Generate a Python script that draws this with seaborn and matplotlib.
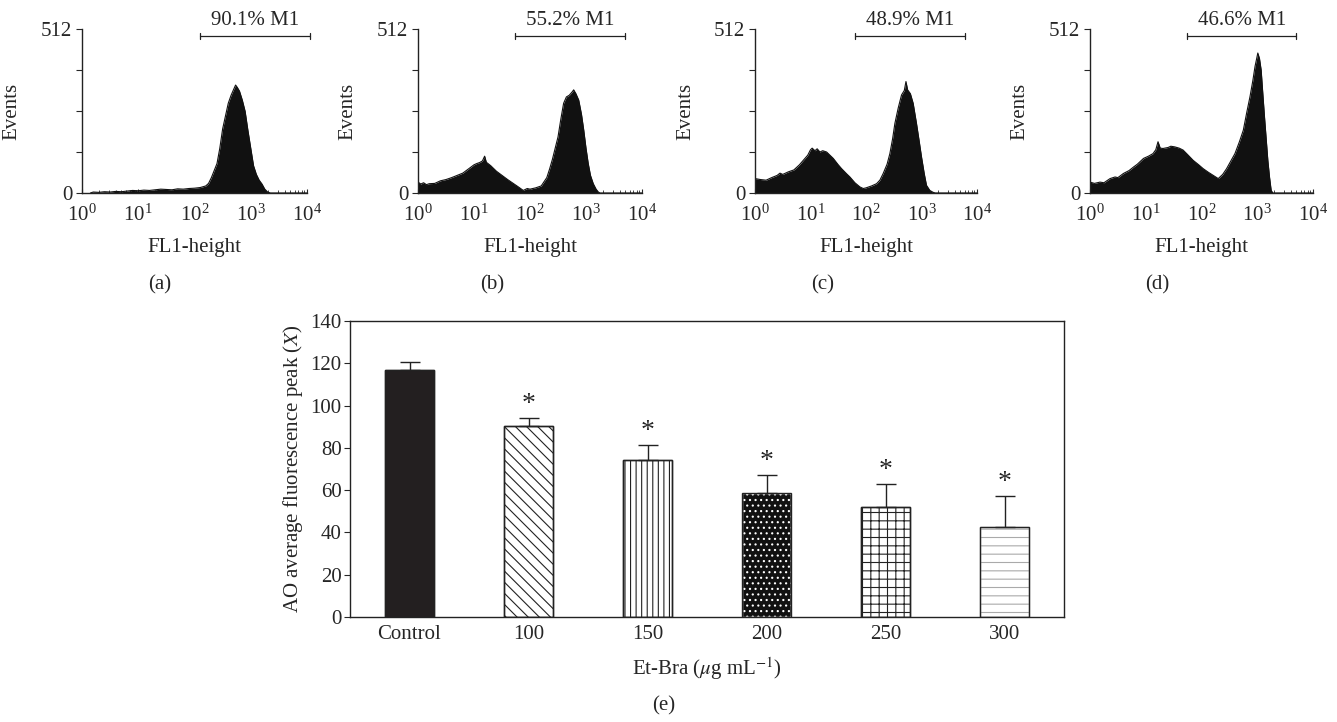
import numpy as np
import pandas as pd
import matplotlib
matplotlib.use("Agg")
import matplotlib.pyplot as plt
import seaborn as sns
from matplotlib.ticker import LogLocator, FixedLocator, NullFormatter, FixedFormatter

# ---------------- data ----------------
hist_a_logx = [0.15, 0.2, 0.3, 0.4, 0.5, 0.6, 0.7, 0.8, 0.9, 1.0, 1.1, 1.2, 1.3, 1.4, 1.5, 1.6, 1.7, 1.8, 1.9,
               2.0, 2.1, 2.2, 2.25, 2.3, 2.35, 2.4, 2.45, 2.5, 2.55, 2.6, 2.65, 2.7, 2.73, 2.76, 2.8, 2.85, 2.9,
               2.95, 3.0, 3.05, 3.1, 3.15, 3.2, 3.25, 3.3, 3.35, 4.0]
hist_a_cnt = [0, 3, 2, 4, 3, 5, 4, 6, 8, 7, 9, 8, 10, 12, 11, 10, 13, 12, 14,
              15, 17, 22, 30, 48, 70, 92, 140, 200, 240, 280, 305, 325, 337, 330, 318, 290, 255,
              195, 140, 85, 58, 40, 28, 12, 3, 0, 0]

hist_b_logx = [0.0, 0.05, 0.1, 0.15, 0.2, 0.3, 0.4, 0.5, 0.6, 0.7, 0.8, 0.9, 1.0, 1.05, 1.1, 1.15, 1.19, 1.22,
               1.3, 1.4, 1.5, 1.6, 1.7, 1.8, 1.88, 1.95, 2.0, 2.1, 2.2, 2.3, 2.35, 2.4, 2.45, 2.5, 2.55, 2.6,
               2.65, 2.7, 2.75, 2.78, 2.82, 2.87, 2.92, 2.96, 3.0, 3.04, 3.08, 3.13, 3.18, 3.22, 3.25, 4.0]
hist_b_cnt = [34, 28, 32, 26, 29, 30, 38, 42, 48, 55, 62, 75, 88, 92, 95, 100, 115, 96,
              85, 68, 55, 42, 30, 18, 8, 14, 12, 16, 22, 48, 75, 105, 140, 175, 230, 280,
              300, 305, 315, 322, 310, 290, 245, 196, 140, 92, 55, 29, 12, 3, 0, 0]

hist_c_logx = [0.0, 0.1, 0.2, 0.3, 0.4, 0.45, 0.5, 0.6, 0.7, 0.8, 0.87, 0.95, 1.0, 1.03, 1.08, 1.12, 1.17,
               1.22, 1.29, 1.35, 1.41, 1.5, 1.56, 1.65, 1.71, 1.8, 1.89, 1.95, 2.0, 2.1, 2.19, 2.25, 2.31,
               2.38, 2.43, 2.48, 2.52, 2.58, 2.64, 2.69, 2.72, 2.75, 2.8, 2.85, 2.91, 2.96, 3.0, 3.05,
               3.09, 3.15, 3.21, 3.25, 4.0]
hist_c_cnt = [45, 42, 40, 48, 55, 62, 58, 66, 72, 88, 102, 118, 135, 140, 132, 138, 128,
              132, 128, 118, 108, 88, 76, 60, 50, 32, 19, 14, 16, 22, 29, 40, 61,
              90, 123, 170, 217, 265, 306, 320, 348, 322, 310, 280, 217, 160, 113, 60,
              24, 8, 2, 0, 0]

hist_d_logx = [0.0, 0.08, 0.18, 0.25, 0.36, 0.45, 0.5, 0.6, 0.7, 0.78, 0.85, 0.96, 1.05, 1.13, 1.18, 1.22,
               1.26, 1.31, 1.4, 1.45, 1.52, 1.6, 1.67, 1.75, 1.85, 1.95, 2.03, 2.12, 2.21, 2.3, 2.38, 2.45,
               2.52, 2.6, 2.68, 2.75, 2.81, 2.87, 2.92, 2.96, 2.99, 3.01, 3.04, 3.07, 3.1, 3.13, 3.16,
               3.19, 3.22, 3.25, 3.28, 4.0]
hist_d_cnt = [34, 30, 34, 32, 45, 50, 48, 61, 70, 81, 90, 108, 115, 123, 135, 160,
              140, 139, 142, 146, 144, 140, 134, 120, 102, 88, 76, 65, 55, 45, 58, 76,
              98, 123, 160, 196, 250, 301, 350, 395, 420, 437, 420, 384, 310, 238, 170,
              102, 50, 8, 0, 0]

gate_pct = ["90.1% M1", "55.2% M1", "48.9% M1", "46.6% M1"]
gate_lo = [2.09, 1.73, 1.80, 1.74]   # log10 start of M1 gate
gate_hi = [4.05, 3.70, 3.78, 3.70]   # log10 end of M1 gate
panel_labels = ["(a)", "(b)", "(c)", "(d)"]

categories = ["Control", "100", "150", "200", "250", "300"]
means = [116.7, 90.3, 74.1, 58.8, 52.0, 42.7]
errors = [3.9, 4.0, 7.1, 8.5, 11.1, 14.7]
significant = [False, True, True, True, True, True]

# ---------------- style ----------------
sns.set_theme(style="white")
plt.rcParams['font.family'] = ['Liberation Serif', 'DejaVu Serif']
plt.rcParams['mathtext.fontset'] = 'stix'
plt.rcParams['hatch.linewidth'] = 0.8
plt.rcParams['axes.edgecolor'] = '#222222'
FS = 15

fig = plt.figure(figsize=(13.37, 7.22), dpi=100)

hist_lefts = [82, 418, 755, 1090]
hist_widths = [225, 224, 222, 223]
label_x = [160, 492, 823, 1157]
hists = [(hist_a_logx, hist_a_cnt), (hist_b_logx, hist_b_cnt),
         (hist_c_logx, hist_c_cnt), (hist_d_logx, hist_d_cnt)]

W, H = 1337.0, 722.0
for i, (lx, cnt) in enumerate(hists):
    ax = fig.add_axes([hist_lefts[i] / W, (H - 193) / H, hist_widths[i] / W, 164 / H])
    x = np.power(10.0, np.array(lx))
    df = pd.DataFrame({"x": x, "y": cnt})
    ax.fill_between(df["x"], 0, df["y"], color="#111111", linewidth=0)
    sns.lineplot(data=df, x="x", y="y", ax=ax, color="#111111", linewidth=0.8)
    ax.set_xscale("log")
    ax.set_xlim(1, 1e4)
    ax.set_ylim(0, 512)
    ax.yaxis.set_major_locator(FixedLocator([0, 128, 256, 384, 512]))
    ax.yaxis.set_major_formatter(FixedFormatter(["0", "", "", "", "512"]))
    ax.xaxis.set_major_locator(LogLocator(base=10, numticks=10))
    ax.xaxis.set_minor_locator(LogLocator(base=10, subs=np.arange(2, 10), numticks=10))
    ax.xaxis.set_minor_formatter(NullFormatter())
    for s in ["top", "right"]:
        ax.spines[s].set_visible(False)
    for s in ["left", "bottom"]:
        ax.spines[s].set_linewidth(1.0)
        ax.spines[s].set_color("#222222")
    ax.tick_params(axis="y", direction="out", length=4, width=0.8, labelsize=FS, pad=3, left=True)
    ax.tick_params(axis="x", which="major", direction="in", length=3, width=0.8, labelsize=FS, pad=8, bottom=True)
    ax.tick_params(axis="x", which="minor", direction="in", length=2, width=0.6, bottom=True)
    ax.set_xlabel("FL1-height", fontsize=FS, labelpad=9)
    ax.set_ylabel("Events", fontsize=FS, labelpad=-2)
    ax.yaxis.set_label_coords(-0.27, 0.5)
    ax.grid(False)
    # M1 gate marker
    ylev = 490
    lo, hi = 10 ** gate_lo[i], 10 ** gate_hi[i]
    ax.plot([lo, hi], [ylev, ylev], color="#222222", lw=0.9, clip_on=False)
    ax.plot([lo, lo], [ylev - 10, ylev + 10], color="#222222", lw=0.9, clip_on=False)
    ax.plot([hi, hi], [ylev - 10, ylev + 10], color="#222222", lw=0.9, clip_on=False)
    ax.text(10 ** ((gate_lo[i] + gate_hi[i]) / 2), ylev + 18, gate_pct[i], ha="center", va="bottom",
            fontsize=FS, clip_on=False)
    fig.text(label_x[i] / W, (H - 285) / H, panel_labels[i], ha="center", va="center", fontsize=FS)

# ---------------- bar chart ----------------
axb = fig.add_axes([350 / W, (H - 617) / H, 714 / W, 296 / H])
dfb = pd.DataFrame({"cat": categories, "mean": means})
sns.barplot(data=dfb, x="cat", y="mean", ax=axb, width=0.41, color="white",
            edgecolor="#222222", linewidth=1.0, errorbar=None, saturation=1)
hatches = [None, "\\\\\\", "|||", "...", "++", "--"]
faces = ["#231f20", "white", "white", "#111111", "white", "white"]
hatch_edges = ["#231f20", "#222222", "#222222", "white", "#222222", "#aaaaaa"]
for i, p in enumerate(axb.patches[:len(categories)]):
    p.set_facecolor(faces[i])
    p.set_edgecolor(hatch_edges[i])
    if hatches[i]:
        p.set_hatch(hatches[i])
# outlines on top
xs = np.arange(len(categories))
axb.bar(xs, means, width=0.41, fill=False, edgecolor="#222222", linewidth=1.0, zorder=3)
axb.errorbar(xs, means, yerr=[np.zeros(len(means)), errors], fmt="none", ecolor="#222222",
             elinewidth=1.0, capsize=7, capthick=1.0, zorder=4)
for i in range(len(categories)):
    if significant[i]:
        axb.text(xs[i], means[i] + errors[i] + 0.5, "*", ha="center", va="bottom", fontsize=20)
axb.set_xlim(-0.5, len(categories) - 0.5)
axb.set_ylim(0, 140)
axb.set_yticks(np.arange(0, 141, 20))
axb.tick_params(axis="y", direction="out", length=4, width=0.8, labelsize=FS, left=True, pad=2)
axb.tick_params(axis="x", length=0, labelsize=FS, pad=6)
for s in axb.spines.values():
    s.set_visible(True)
    s.set_linewidth(1.0)
    s.set_color("#222222")
axb.set_xlabel(r"Et-Bra ($\mu$g mL$^{-1}$)", fontsize=FS, labelpad=8)
axb.set_ylabel(r"AO average fluorescence peak ($X$)", fontsize=FS, labelpad=4)
axb.grid(False)
fig.text(664 / W, (H - 706) / H, "(e)", ha="center", va="center", fontsize=FS)

fig.savefig("out.png", dpi=100)
